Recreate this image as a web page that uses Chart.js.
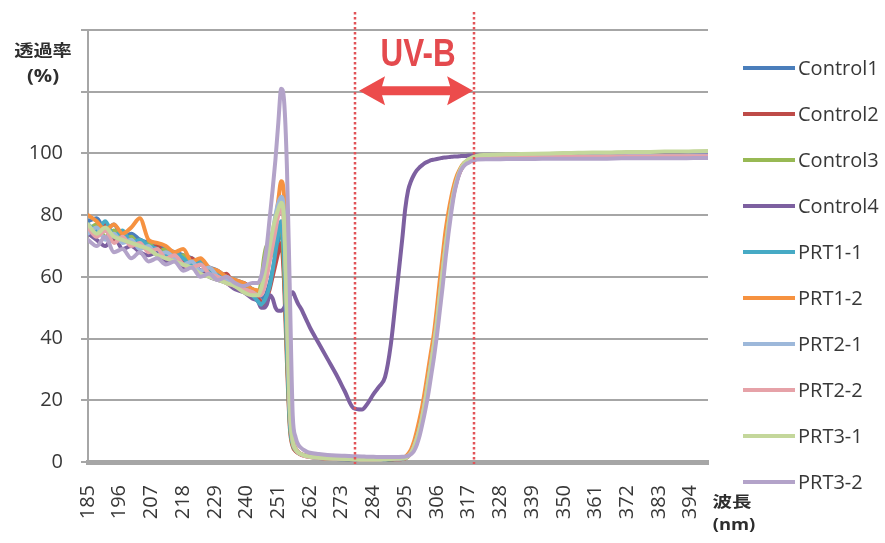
<!DOCTYPE html>
<html>
<head>
<meta charset="utf-8">
<title>透過率スペクトル</title>
<style>
  html, body { margin: 0; padding: 0; background: #ffffff; }
  canvas { display: block; }
</style>
<script src="https://cdn.jsdelivr.net/npm/chart.js@4.4.1/dist/chart.umd.min.js"></script>
</head>
<body>
<canvas id="chart" width="885" height="543"></canvas>
<script>
// Wavelength sampling (nm)
const wavelengths = [
  185, 188, 191, 194, 197, 200, 203, 206, 209, 212, 215, 218, 221, 224, 227, 230, 233, 236, 239, 242,
  244, 245, 246, 247, 248, 249, 250, 251, 252, 253, 254, 255, 256, 257, 258, 259, 260, 261, 262,
  265, 268, 271, 274, 277,
  280, 282, 284, 286, 288, 290, 292, 294,
  295, 296, 297, 298, 299, 300, 301, 302, 303, 304, 305, 306, 307, 308, 309, 310, 311, 312, 313, 314, 315, 316, 317, 318, 319, 320,
  323, 326, 330, 335, 340, 345, 350, 355, 360, 365, 370, 375, 380, 385, 390, 395, 400
];

// Axis tick labels
const xTickLabels = [185, 196, 207, 218, 229, 240, 251, 262, 273, 284, 295, 306, 317, 328, 339, 350, 361, 372, 383, 394];
const yTickLabels = [0, 20, 40, 60, 80, 100];

// Transmittance (%) per sample
const control1 = [
  78, 79, 75, 77, 73, 74, 72, 71, 70, 69, 68, 67, 66, 64, 63, 62, 60, 59, 58, 56,
  55, 54, 53, 55, 58, 62, 67, 72, 76, 62, 36, 13, 6, 4, 3, 2.5, 2.2, 2, 1.8,
  1.5, 1.3, 1.1, 1, 0.9,
  0.8, 0.8, 0.8, 0.8, 0.9, 0.9, 1, 1.1,
  1.3, 2, 3.2, 5.2, 8, 11.5, 16, 21, 27, 33, 39, 46, 55, 63, 71, 78, 84, 88.5, 92, 94.5, 96, 97, 97.7, 98.1, 98.4, 98.6,
  98.7, 98.8, 98.9, 98.9, 99, 99, 99.1, 99.1, 99.1, 99.2, 99.2, 99.2, 99.3, 99.3, 99.3, 99.4, 99.4
];
const control2 = [
  76, 74, 77, 72, 74, 70, 72, 69, 70, 67, 68, 65, 66, 62, 63, 60, 61, 57, 58, 55,
  53, 52, 51, 53, 56, 60, 64, 68, 71, 58, 32, 11, 5, 3.5, 2.8, 2.3, 2, 1.8, 1.6,
  1.3, 1.1, 1, 0.9, 0.8,
  0.7, 0.7, 0.7, 0.7, 0.8, 0.8, 0.9, 1,
  1.2, 1.8, 2.9, 4.8, 7.5, 11, 15.5, 20.5, 26.5, 32.5, 38.5, 45.5, 54, 62, 70, 77, 83, 88, 91.5, 94, 95.8, 96.8, 97.5, 98, 98.3, 98.5,
  98.6, 98.7, 98.7, 98.8, 98.8, 98.9, 98.9, 99, 99, 99, 99.1, 99.1, 99.1, 99.2, 99.2, 99.2, 99.3
];
const control3 = [
  75, 77, 73, 75, 72, 73, 70, 71, 68, 69, 66, 67, 64, 65, 62, 61, 60, 58, 57, 56,
  55, 58, 66, 70, 66, 68, 72, 75, 76, 63, 35, 12, 5.5, 3.8, 3, 2.5, 2.2, 2, 1.8,
  1.5, 1.2, 1.1, 1, 0.9,
  0.8, 0.8, 0.8, 0.8, 0.8, 0.9, 1, 1.1,
  1.3, 1.9, 3, 5, 7.8, 11.3, 15.5, 20.5, 26.5, 32.5, 38.5, 45.5, 54, 62.5, 70.5, 77.5, 83.5, 88.5, 92, 94.7, 96.3, 97.3, 98, 98.5, 98.9, 99.1,
  99.3, 99.4, 99.5, 99.6, 99.7, 99.8, 99.9, 100, 100, 100.1, 100.2, 100.2, 100.3, 100.3, 100.4, 100.4, 100.5
];
const control4 = [
  74, 72, 70, 73, 69, 70, 68, 67, 68, 65, 66, 63, 64, 62, 60, 59, 58, 56, 55, 53,
  52, 50, 50, 51, 54, 53, 50, 49, 49, 50, 52, 54, 55, 53, 51, 49.5, 47.5, 45.5, 43.5,
  38.5, 33.5, 28.5, 23, 17.5,
  17, 19, 22, 24.5, 27.5, 38, 55, 72.5,
  82, 88, 91, 93, 94.5, 95.5, 96.3, 97, 97.4, 97.8, 98, 98.2, 98.4, 98.6, 98.7, 98.8, 98.9, 99, 99, 99.1, 99.2, 99.2, 99.3, 99.3, 99.4, 99.4,
  99.4, 99.4, 99.5, 99.5, 99.5, 99.5, 99.6, 99.6, 99.6, 99.6, 99.7, 99.7, 99.7, 99.7, 99.8, 99.8, 99.8
];
const prt1_1 = [
  77, 75, 78, 73, 75, 71, 72, 70, 69, 67, 68, 66, 64, 65, 62, 61, 59, 58, 56, 54,
  52, 51, 52, 54, 57, 62, 68, 74, 78, 66, 38, 13, 6, 4, 3, 2.5, 2.1, 1.9, 1.7,
  1.4, 1.2, 1, 0.9, 0.8,
  0.7, 0.7, 0.7, 0.7, 0.8, 0.9, 1, 1.1,
  1.3, 2, 3.1, 5, 7.8, 11.3, 15.8, 21, 27, 33, 39, 46, 54.5, 63, 71, 78, 84, 88.5, 92, 94.5, 96, 97, 97.6, 98, 98.2, 98.4,
  98.4, 98.5, 98.5, 98.5, 98.6, 98.6, 98.6, 98.7, 98.7, 98.7, 98.7, 98.8, 98.8, 98.8, 98.8, 98.9, 98.9
];
const prt1_2 = [
  80, 78, 75, 77, 74, 76, 79, 72, 71, 70, 68, 69, 65, 66, 63, 62, 60, 59, 58, 56,
  55.5, 55, 57, 61, 66, 72, 78, 85, 91, 86, 55, 22, 8, 4.5, 3.2, 2.6, 2.2, 2, 1.8,
  1.5, 1.2, 1.1, 1, 0.9,
  0.8, 0.8, 0.8, 0.9, 1, 1.1, 1.2, 1.4,
  1.6, 2.6, 4, 6.5, 10, 14, 18.5, 24, 30, 36, 42, 50, 59, 67, 75, 81, 86, 90, 93, 95, 96.5, 97.3, 97.8, 98.2, 98.4, 98.5,
  98.5, 98.5, 98.5, 98.6, 98.6, 98.6, 98.6, 98.6, 98.7, 98.7, 98.7, 98.7, 98.7, 98.8, 98.8, 98.8, 98.8
];
const prt2_1 = [
  74, 76, 72, 74, 71, 72, 69, 70, 67, 68, 66, 64, 65, 62, 63, 60, 59, 57, 56, 55,
  54, 55, 58, 63, 69, 74, 80, 84, 86, 80, 50, 18, 7, 4.2, 3.1, 2.5, 2.1, 1.9, 1.7,
  1.4, 1.2, 1.1, 1, 0.9,
  0.8, 0.8, 0.8, 0.8, 0.9, 1, 1.1, 1.2,
  1.4, 2, 3, 4.9, 7.6, 11, 15.3, 20.5, 26.5, 32.5, 38.5, 45.5, 54, 62, 70, 77, 83, 88, 91.5, 94.2, 96, 97, 97.7, 98.1, 98.4, 98.6,
  98.7, 98.8, 98.8, 98.9, 98.9, 99, 99, 99, 99.1, 99.1, 99.1, 99.2, 99.2, 99.2, 99.2, 99.3, 99.3
];
const prt2_2 = [
  76, 73, 75, 71, 73, 70, 71, 68, 69, 66, 67, 64, 63, 64, 61, 60, 58, 57, 56, 55,
  54, 54, 56, 60, 65, 70, 75, 80, 82, 76, 46, 16, 6.5, 4, 3, 2.4, 2, 1.8, 1.6,
  1.4, 1.2, 1.1, 1, 0.9,
  0.8, 0.8, 0.8, 0.8, 0.9, 1, 1.1, 1.2,
  1.3, 1.9, 2.9, 4.7, 7.3, 10.6, 14.8, 20, 26, 32, 38, 45, 53.5, 61.5, 69.5, 76.5, 82.5, 87.5, 91.3, 94, 95.8, 96.9, 97.6, 98, 98.3, 98.5,
  98.6, 98.7, 98.7, 98.8, 98.8, 98.8, 98.9, 98.9, 98.9, 99, 99, 99, 99, 99.1, 99.1, 99.1, 99.1
];
const prt3_1 = [
  77, 74, 76, 73, 72, 71, 70, 69, 67, 66, 65, 64, 63, 61, 60, 59, 58, 57, 55, 54,
  54, 56, 60, 65, 70, 75, 79, 82, 84, 78, 48, 17, 6.8, 4.1, 3, 2.5, 2.1, 1.9, 1.7,
  1.4, 1.2, 1.1, 1, 0.9,
  0.8, 0.8, 0.8, 0.8, 0.9, 1, 1.1, 1.2,
  1.3, 1.9, 2.9, 4.7, 7.4, 10.8, 15, 20, 26, 32, 38, 45, 53.5, 62, 70, 77, 83, 88, 91.8, 94.5, 96.3, 97.4, 98.1, 98.6, 99, 99.3,
  99.5, 99.6, 99.7, 99.8, 99.9, 100, 100.1, 100.2, 100.3, 100.3, 100.4, 100.5, 100.5, 100.6, 100.6, 100.7, 100.8
];
const prt3_2 = [
  72, 70, 73, 68, 69, 66, 68, 65, 66, 64, 65, 62, 63, 60, 61, 59, 60, 58, 57, 58,
  58, 60, 64, 70, 79, 88, 98, 110, 121, 117, 95, 55, 15, 8, 5.5, 4.5, 3.8, 3.3, 3,
  2.6, 2.3, 2.1, 2, 1.9,
  1.8, 1.7, 1.7, 1.6, 1.6, 1.6, 1.6, 1.7,
  1.8, 2, 2.5, 3.5, 5.5, 8.5, 12.5, 17, 22, 28, 34, 41, 49, 57, 66, 74, 81, 87, 91, 94, 95.5, 96.5, 97, 97.5, 97.8, 98,
  98.1, 98.1, 98.2, 98.2, 98.2, 98.3, 98.3, 98.3, 98.3, 98.3, 98.4, 98.4, 98.4, 98.4, 98.4, 98.5, 98.5
];

const seriesNames = ['Control1', 'Control2', 'Control3', 'Control4', 'PRT1-1', 'PRT1-2', 'PRT2-1', 'PRT2-2', 'PRT3-1', 'PRT3-2'];
const seriesValues = [control1, control2, control3, control4, prt1_1, prt1_2, prt2_1, prt2_2, prt3_1, prt3_2];
const seriesColors = ['#4a7ebb', '#be4b48', '#98b954', '#7d60a0', '#46aac5', '#f69240',
                      '#9db8da', '#e6a2a8', '#c4d79b', '#b3a3c9'];

// UV-B band limits (nm)
const uvbBand = [277.6, 318.9];

const tickFont = { family: '"Open Sans", "Noto Sans", sans-serif', size: 20 };
const textColor = '#383838';
const gridColor = '#a6a6a6';

function drawScaledText(ctx, text, cx, cy, font, color, sx) {
  ctx.save();
  ctx.font = font;
  ctx.fillStyle = color;
  ctx.textAlign = 'center';
  ctx.textBaseline = 'middle';
  ctx.translate(cx, cy);
  ctx.scale(sx, 1);
  ctx.fillText(text, 0, 0);
  ctx.restore();
}

const decorations = {
  id: 'decorations',
  afterDraw(chart) {
    const { ctx, chartArea } = chart;
    const xs = chart.scales.x, ys = chart.scales.y;

    // dotted UV-B boundaries
    ctx.save();
    ctx.strokeStyle = '#e25458';
    ctx.lineWidth = 2.5;
    ctx.setLineDash([2.5, 2.5]);
    uvbBand.forEach(v => {
      const px = Math.round(xs.getPixelForValue(v));
      ctx.beginPath();
      ctx.moveTo(px, 12);
      ctx.lineTo(px, chartArea.bottom + 2);
      ctx.stroke();
    });
    ctx.restore();

    // double-headed arrow across the band
    const x1 = xs.getPixelForValue(uvbBand[0]) + 4;
    const x2 = xs.getPixelForValue(uvbBand[1]) - 1;
    const ay = ys.getPixelForValue(120) - 1;
    const head = 26, hh = 14.5, sh = 4.5, notch = 3;
    ctx.save();
    ctx.fillStyle = '#ec4c4c';
    ctx.beginPath();
    ctx.moveTo(x1, ay);
    ctx.lineTo(x1 + head, ay - hh);
    ctx.lineTo(x1 + head - notch, ay - sh);
    ctx.lineTo(x2 - head + notch, ay - sh);
    ctx.lineTo(x2 - head, ay - hh);
    ctx.lineTo(x2, ay);
    ctx.lineTo(x2 - head, ay + hh);
    ctx.lineTo(x2 - head + notch, ay + sh);
    ctx.lineTo(x1 + head - notch, ay + sh);
    ctx.lineTo(x1 + head, ay + hh);
    ctx.closePath();
    ctx.fill();
    ctx.restore();

    // UV-B label
    const uvFont = 'bold 38px "Liberation Sans", Arial, sans-serif';
    ctx.save();
    ctx.font = uvFont;
    const w = ctx.measureText('UV-B').width;
    ctx.restore();
    drawScaledText(ctx, 'UV-B', (x1 + x2) / 2 + 2, 56, uvFont, '#e44a4e', 75 / w);

    // axis titles
    const cjkBold = 'bold 16px "Noto Sans CJK JP", "Noto Sans CJK SC", sans-serif';
    drawScaledText(ctx, '透過率', 43, 50, cjkBold, '#2e2e2e', 1.2);
    drawScaledText(ctx, '(%)', 43, 77, 'bold 17px "Open Sans", sans-serif', '#2e2e2e', 1.2);
    drawScaledText(ctx, '波長', 732, 501, 'bold 15px "Noto Sans CJK JP", "Noto Sans CJK SC", sans-serif', '#2e2e2e', 1.3);
    drawScaledText(ctx, '(nm)', 734, 525, 'bold 16px "Open Sans", sans-serif', '#2e2e2e', 1.15);

    // legend
    ctx.save();
    chart.data.datasets.forEach((ds, i) => {
      const ly = 68 + i * 46;
      ctx.strokeStyle = ds.borderColor;
      ctx.lineWidth = 4;
      ctx.beginPath();
      ctx.moveTo(743, ly);
      ctx.lineTo(795, ly);
      ctx.stroke();
      ctx.fillStyle = '#383838';
      ctx.font = '20px "Open Sans", "Noto Sans", sans-serif';
      ctx.textAlign = 'left';
      ctx.textBaseline = 'middle';
      ctx.fillText(ds.label, 798, ly + 1);
    });
    ctx.restore();
  }
};

const datasets = seriesNames.map((name, i) => ({
  label: name,
  data: seriesValues[i],
  borderColor: seriesColors[i],
  backgroundColor: seriesColors[i],
  borderWidth: 4,
  pointRadius: 0,
  fill: false,
  cubicInterpolationMode: 'monotone',
  borderJoinStyle: 'round',
  borderCapStyle: 'round',
  order: seriesNames.length - 1 - i
}));

new Chart(document.getElementById('chart'), {
  type: 'line',
  data: { labels: wavelengths, datasets },
  options: {
    responsive: false,
    animation: false,
    devicePixelRatio: 1,
    events: [],
    layout: { padding: { top: 28, right: 177, left: 0, bottom: 0 } },
    plugins: { legend: { display: false }, tooltip: { enabled: false } },
    scales: {
      x: {
        type: 'linear',
        min: 185,
        max: 400,
        afterBuildTicks: s => { s.ticks = xTickLabels.map(v => ({ value: v })); },
        afterFit: s => { s.height = 81; },
        ticks: {
          autoSkip: false,
          minRotation: 90,
          maxRotation: 90,
          padding: 23,
          font: tickFont,
          color: textColor,
          callback: v => String(v)
        },
        grid: { display: false, drawTicks: false },
        border: { color: gridColor, width: 5 }
      },
      y: {
        min: 0,
        max: 140,
        afterFit: s => { s.width = 88; },
        ticks: {
          stepSize: 20,
          padding: 18,
          font: tickFont,
          color: textColor,
          callback: v => (yTickLabels.includes(v) ? String(v) : '')
        },
        grid: { color: gridColor, lineWidth: 2, drawTicks: true, tickLength: 7 },
        border: { color: gridColor, width: 2 }
      }
    }
  },
  plugins: [decorations]
});
</script>
</body>
</html>
